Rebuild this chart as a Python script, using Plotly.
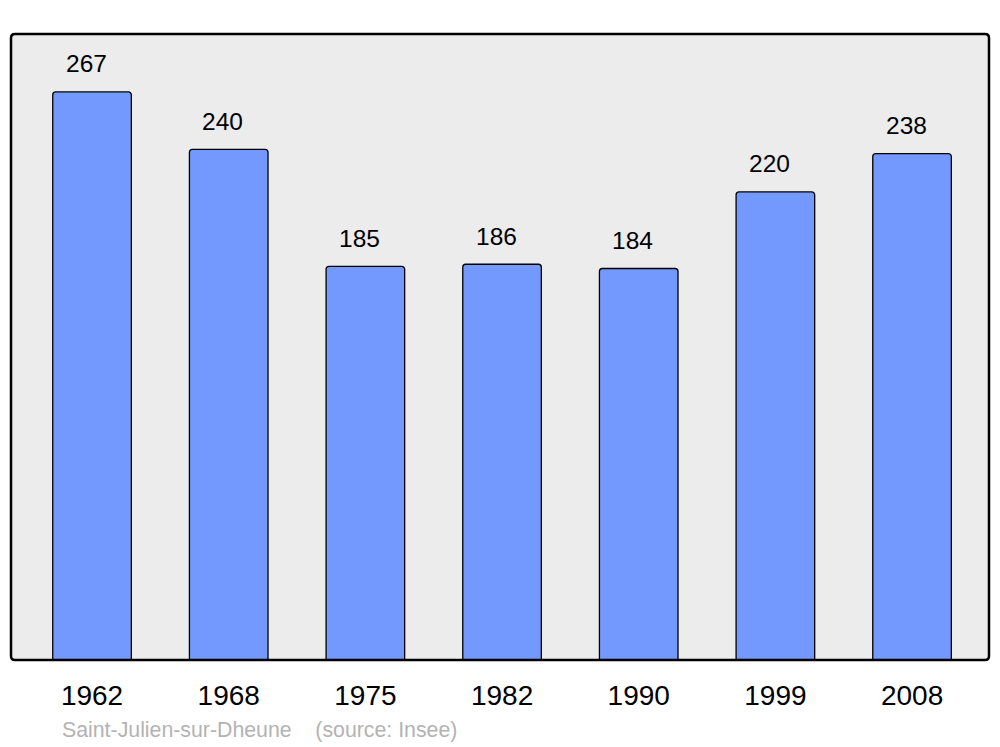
import plotly.graph_objects as go

years = ["1962", "1968", "1975", "1982", "1990", "1999", "2008"]
population = [267, 240, 185, 186, 184, 220, 238]
footer = "Saint-Julien-sur-Dheune    (source: Insee)"

# page body has an 8px default margin; compensate in figure size / margins
W, H = 992, 739
L, R, T, B = 3, 11, 26, 87
pw, ph = W - L - R, H - T - B
xs = list(range(len(years)))

fig = go.Figure()
fig.add_trace(go.Bar(
    x=xs, y=population, width=0.575,
    marker=dict(color="#7399ff", line=dict(color="#000000", width=1.3), cornerradius=3),
    hoverinfo="skip",
))

for xi, v in zip(xs, population):
    fig.add_annotation(x=xi, y=v, text=str(v), showarrow=False, yshift=28, xshift=-6,
                       yanchor="middle", xanchor="center",
                       font=dict(family="Liberation Sans, Arial", size=24.5, color="#000"))

fig.add_annotation(xref="paper", yref="paper", x=49 / pw, y=-(730 - 660) / ph,
                   xanchor="left", yanchor="middle", text=footer, showarrow=False,
                   font=dict(family="Liberation Sans, Arial", size=21.3, color="#b3b3b3"))

# rounded border
rx, ry = 4 / pw, 4 / ph
path = (f"M {rx},0 L {1-rx},0 Q 1,0 1,{ry} L 1,{1-ry} Q 1,1 {1-rx},1 "
        f"L {rx},1 Q 0,1 0,{1-ry} L 0,{ry} Q 0,0 {rx},0 Z")
fig.add_shape(type="path", xref="paper", yref="paper", path=path,
              line=dict(color="#000000", width=2.5), layer="above")

fig.update_layout(
    width=W, height=H,
    margin=dict(l=L, r=R, t=T, b=B),
    paper_bgcolor="#ffffff", plot_bgcolor="#ececec",
    showlegend=False,
    font=dict(family="Liberation Sans, Arial"),
    xaxis=dict(range=[-0.593, 6.563], tickvals=xs, ticktext=years,
               showgrid=False, zeroline=False, showline=False, ticks="",
               tickfont=dict(size=28, color="#000"), ticklabelstandoff=16),
    yaxis=dict(range=[0, 294.2], showgrid=False, zeroline=False,
               showticklabels=False, showline=False, ticks=""),
)

fig.write_html("out.html")
